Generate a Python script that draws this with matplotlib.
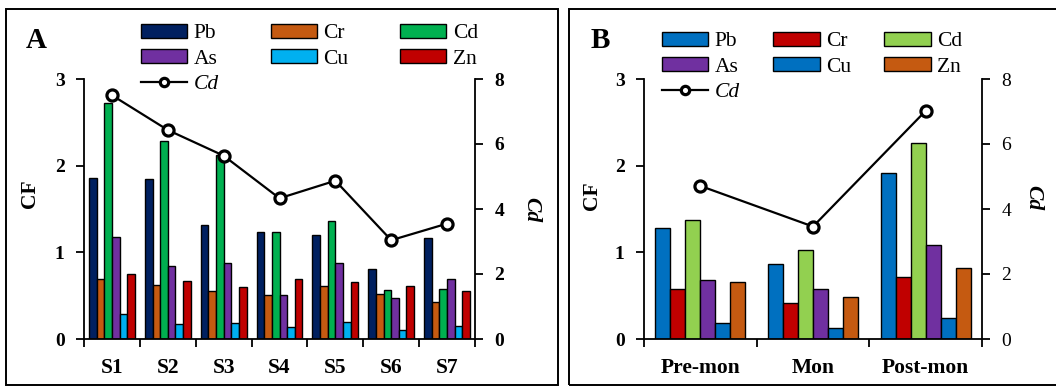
import numpy as np
import matplotlib
matplotlib.use('Agg')
import matplotlib.pyplot as plt
from matplotlib.patches import Rectangle

plt.rcParams['font.family'] = ['Liberation Serif', 'DejaVu Serif']

metals = ['Pb', 'Cr', 'Cd', 'As', 'Cu', 'Zn']

# panel A: sites
sites = ['S1', 'S2', 'S3', 'S4', 'S5', 'S6', 'S7']
cf_a = {
    'Pb': [1.86, 1.85, 1.32, 1.23, 1.20, 0.81, 1.17],
    'Cr': [0.69, 0.62, 0.55, 0.51, 0.61, 0.52, 0.43],
    'Cd': [2.72, 2.29, 2.12, 1.23, 1.36, 0.56, 0.58],
    'As': [1.18, 0.84, 0.88, 0.51, 0.88, 0.47, 0.69],
    'Cu': [0.29, 0.17, 0.18, 0.14, 0.20, 0.10, 0.15],
    'Zn': [0.75, 0.67, 0.60, 0.69, 0.66, 0.61, 0.55],
}
cd_a = [7.50, 6.43, 5.64, 4.33, 4.87, 3.04, 3.55]
colors_a = ['#002060', '#C55A11', '#00B050', '#7030A0', '#00B0F0', '#C00000']

# panel B: seasons
seasons = ['Pre-mon', 'Mon', 'Post-mon']
cf_b = {
    'Pb': [1.28, 0.86, 1.91],
    'Cr': [0.58, 0.41, 0.72],
    'Cd': [1.37, 1.03, 2.26],
    'As': [0.68, 0.58, 1.08],
    'Cu': [0.18, 0.13, 0.24],
    'Zn': [0.66, 0.48, 0.82],
}
cd_b = [4.71, 3.46, 7.02]
colors_b = ['#0070C0', '#C00000', '#92D050', '#7030A0', '#0070C0', '#C55A11']

W, H = 1056, 387
fig = plt.figure(figsize=(W / 100, H / 100), dpi=100)

# panel frames (B runs off the right edge)
for x0, x1 in [(6, 558), (569, 1062)]:
    fig.patches.append(Rectangle((x0 / W, 1 - 385 / H), (x1 - x0) / W, (385 - 9) / H,
                                 transform=fig.transFigure, fill=False,
                                 edgecolor='black', linewidth=1.4))


def panel(left, right, cats, data, cd, colors, group_w, letter, letter_x,
          right_bold, leg_x, leg_y, colsp, cf_pos, cd_pos):
    ax = fig.add_axes([left / W, 1 - 339 / H, (right - left) / W, (339 - 79) / H])
    n = len(cats)
    bw = group_w / len(metals)
    x = np.arange(n) + 0.5
    handles = []
    for i, m in enumerate(metals):
        b = ax.bar(x - group_w / 2 + bw * (i + 0.5), data[m], bw, color=colors[i],
                   edgecolor='black', linewidth=1.0, label=m, zorder=2)
        handles.append(b)
    ax.set_xlim(0, n)
    ax.set_ylim(0, 3)
    ax.set_yticks([0, 1, 2, 3])
    ax.set_xticks(np.arange(n + 1))
    ax.set_xticklabels([])
    ax.set_xticks(x, minor=True)
    ax.set_xticklabels(cats, minor=True, fontsize=15.5, fontweight='bold')
    ax.tick_params(axis='x', which='major', length=6, width=1.3, direction='out')
    ax.tick_params(axis='x', which='minor', length=0, pad=14)
    ax.tick_params(axis='y', length=6, width=1.3, labelsize=14, pad=8)
    for t in ax.get_yticklabels():
        t.set_fontweight('bold')
    ax.spines['top'].set_visible(False)
    ax.spines['right'].set_visible(False)
    for s in ['left', 'bottom']:
        ax.spines[s].set_linewidth(1.3)

    ax2 = ax.twinx()
    ax2.set_ylim(0, 8)
    ax2.set_yticks([0, 2, 4, 6, 8])
    ln, = ax2.plot(x, cd, color='black', linewidth=1.6, marker='o', markersize=8,
                   markerfacecolor='white', markeredgecolor='black',
                   markeredgewidth=2.3, zorder=3, label='Cd')
    ax2.tick_params(axis='y', length=6, width=1.3, labelsize=14, pad=8)
    if right_bold:
        for t in ax2.get_yticklabels():
            t.set_fontweight('bold')
    for s in ['top', 'left', 'bottom']:
        ax2.spines[s].set_visible(False)
    ax2.spines['right'].set_linewidth(1.3)

    fig.text(cf_pos[0] / W, 1 - cf_pos[1] / H, 'CF', fontsize=15.5, fontweight='bold',
             rotation=90, ha='center', va='center')
    fig.text(cd_pos[0] / W, 1 - cd_pos[1] / H, 'Cd', fontsize=15.5, fontweight='bold',
             fontstyle='italic', rotation=-90, ha='center', va='center')

    leg_h = [handles[0], handles[3], ln, handles[1], handles[4], handles[2], handles[5]]
    leg_l = ['Pb', 'As', 'Cd', 'Cr', 'Cu', 'Cd', 'Zn']
    leg = fig.legend(leg_h, leg_l, ncol=3, loc='upper left',
                     bbox_to_anchor=(leg_x / W, 1 - leg_y / H), frameon=False,
                     fontsize=15.5, handlelength=2.15, handleheight=0.6,
                     handletextpad=0.3, columnspacing=colsp, labelspacing=0.28,
                     borderpad=0, borderaxespad=0, markerscale=0.75)
    leg.get_texts()[2].set_fontstyle('italic')

    fig.text(letter_x / W, 1 - 41 / H, letter, fontsize=21, fontweight='bold',
             ha='center', va='center')
    return ax


panel(84, 475, sites, cf_a, cd_a, colors_a, 0.82, 'A', 36, True, 141, 24, 2.4,
      (30, 194), (531, 210))
panel(644, 982, seasons, cf_b, cd_b, colors_b, 0.80, 'B', 600, False, 662, 32, 1.55,
      (592, 196), (1033, 198))

fig.savefig('out.png', dpi=100)
